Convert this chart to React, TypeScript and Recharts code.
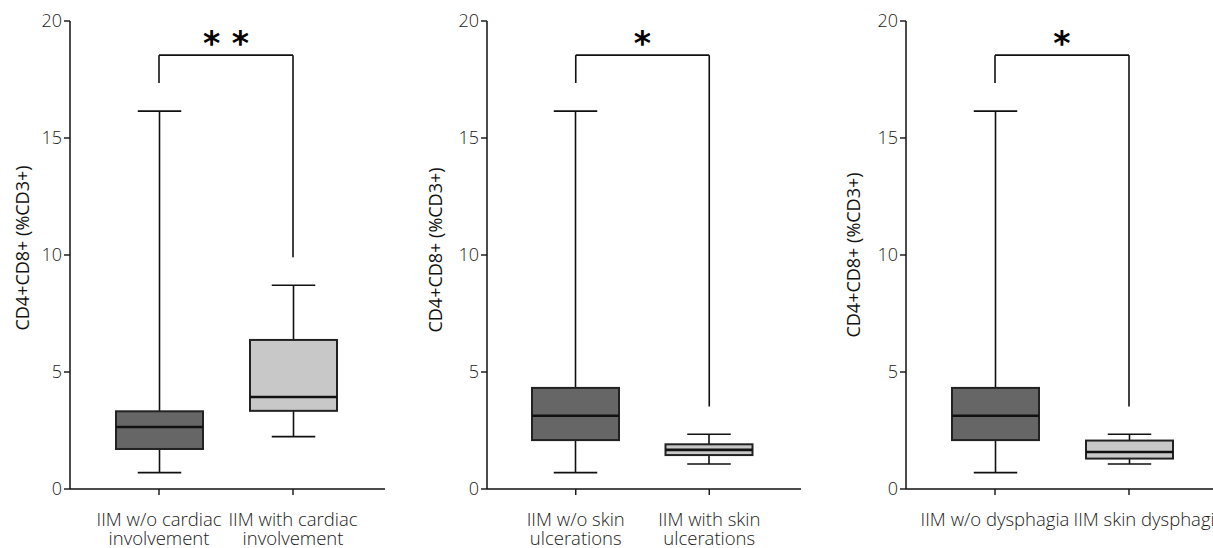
import React from "react";
import { ComposedChart, Bar, XAxis, YAxis, ReferenceLine } from "recharts";

// ---------- data ----------
const yTicks = [0, 5, 10, 15, 20];
const yLabel = "CD4+CD8+ (%CD3+)";

const cardiacCategories = ["IIM w/o cardiac\ninvolvement", "IIM with cardiac\ninvolvement"];
const cardiacMin = [0.7, 2.24];
const cardiacQ1 = [1.71, 3.34];
const cardiacMedian = [2.65, 3.93];
const cardiacQ3 = [3.32, 6.37];
const cardiacMax = [16.15, 8.71];
const cardiacBracket = [17.35, 18.54, 9.9]; // left end, top, right end
const cardiacSignificance = "* *";

const skinCategories = ["IIM w/o skin\nulcerations", "IIM with skin\nulcerations"];
const skinMin = [0.7, 1.07];
const skinQ1 = [2.09, 1.45];
const skinMedian = [3.13, 1.67];
const skinQ3 = [4.32, 1.91];
const skinMax = [16.15, 2.34];
const skinBracket = [17.35, 18.54, 3.53];
const skinSignificance = "*";

const dysphagiaCategories = ["IIM w/o dysphagia", "IIM skin dysphagia"];
const dysphagiaMin = [0.7, 1.07];
const dysphagiaQ1 = [2.09, 1.3];
const dysphagiaMedian = [3.13, 1.58];
const dysphagiaQ3 = [4.32, 2.07];
const dysphagiaMax = [16.15, 2.34];
const dysphagiaBracket = [17.35, 18.54, 3.53];
const dysphagiaSignificance = "*";

// ---------- styles / layout ----------
const BOX_FILLS = ["#666666", "#c8c8c8"];
const INK = "#111";
const TICK_FONT = { fontFamily: "'Open Sans', sans-serif", fontWeight: 300 };
const TICK_COLOR = "#1a1a1a";

const build = (cats: string[], mn: number[], q1: number[], md: number[], q3: number[], mx: number[]) =>
  cats.map((name, i) => ({
    name,
    range: [mn[i], mx[i]],
    min: mn[i],
    q1: q1[i],
    median: md[i],
    q3: q3[i],
    max: mx[i],
  }));

const panels = [
  {
    data: build(cardiacCategories, cardiacMin, cardiacQ1, cardiacMedian, cardiacQ3, cardiacMax),
    cats: cardiacCategories,
    bracket: cardiacBracket,
    sig: cardiacSignificance,
    plotLeft: 70,
    plotWidth: 315,
    labelDist: 48,
    labelY: 248,
    labelDx: [0, 0],
  },
  {
    data: build(skinCategories, skinMin, skinQ1, skinMedian, skinQ3, skinMax),
    cats: skinCategories,
    bracket: skinBracket,
    sig: skinSignificance,
    plotLeft: 487,
    plotWidth: 314,
    labelDist: 52,
    labelY: 250,
    labelDx: [0, 0],
  },
  {
    data: build(dysphagiaCategories, dysphagiaMin, dysphagiaQ1, dysphagiaMedian, dysphagiaQ3, dysphagiaMax),
    cats: dysphagiaCategories,
    bracket: dysphagiaBracket,
    sig: dysphagiaSignificance,
    plotLeft: 906,
    plotWidth: 315,
    labelDist: 53,
    labelY: 255,
    labelDx: [0, 20],
  },
];

const BoxShape = (props: any) => {
  const { x, y, width, height, payload, index } = props;
  if (!payload) return null;
  const lo = payload.min;
  const hi = payload.max;
  const pix = (v: number) => y + (height * (hi - v)) / (hi - lo);
  const cx = x + width / 2;
  const capHalf = width * 0.25;
  const yq1 = pix(payload.q1);
  const yq3 = pix(payload.q3);
  const ymd = pix(payload.median);
  return (
    <g>
      <line x1={cx} x2={cx} y1={pix(hi)} y2={yq3} stroke={INK} strokeWidth={1.6} />
      <line x1={cx} x2={cx} y1={yq1} y2={pix(lo)} stroke={INK} strokeWidth={1.6} />
      <line x1={cx - capHalf} x2={cx + capHalf} y1={pix(hi)} y2={pix(hi)} stroke={INK} strokeWidth={1.6} />
      <line x1={cx - capHalf} x2={cx + capHalf} y1={pix(lo)} y2={pix(lo)} stroke={INK} strokeWidth={1.6} />
      <rect x={x} y={yq3} width={width} height={yq1 - yq3} fill={BOX_FILLS[index % 2]} stroke="#222" strokeWidth={2} />
      <line x1={x} x2={x + width} y1={ymd} y2={ymd} stroke={INK} strokeWidth={2.6} />
    </g>
  );
};

const makeXTick = (labelDx: number[]) => (props: any) => {
  const { x, y, payload, index } = props;
  const lines = String(payload.value).split("\n");
  const px = x + (labelDx[index] || 0);
  return (
    <g>
      {lines.map((ln, i) => (
        <text
          key={i}
          x={px}
          y={y + 29 + i * 19}
          textAnchor="middle"
          fill={TICK_COLOR}
          fontSize={18.5}
          {...TICK_FONT}
        >
          {ln}
        </text>
      ))}
    </g>
  );
};

const makeYLabel = (dist: number, cy: number) => (props: any) => {
  const vb = props.viewBox || {};
  const x = vb.x + vb.width - dist;
  return (
    <text
      x={x}
      y={cy}
      transform={`rotate(-90 ${x} ${cy})`}
      textAnchor="middle"
      dominantBaseline="central"
      fill="#111"
      fontSize={18}
      fontFamily="'Open Sans', sans-serif"
    >
      {yLabel}
    </text>
  );
};

const Panel = ({ p }: { p: (typeof panels)[number] }) => {
  const width = 70 + p.plotWidth + 15;
  const [leftEnd, top, rightEnd] = p.bracket;
  return (
    <div style={{ position: "absolute", left: p.plotLeft - 70, top: 0 }}>
      <ComposedChart width={width} height={548} data={p.data} margin={{ top: 21, right: 15, bottom: 0, left: 10 }}>
        <XAxis
          dataKey="name"
          height={59}
          padding={{ left: 22, right: 25 }}
          tickSize={6}
          tickLine={{ stroke: INK, strokeWidth: 1.4 }}
          axisLine={{ stroke: INK, strokeWidth: 1.5 }}
          tick={makeXTick(p.labelDx)}
          interval={0}
        />
        <XAxis
          xAxisId="top"
          orientation="top"
          dataKey="name"
          height={0}
          tick={false}
          tickLine={false}
          axisLine={{ stroke: INK, strokeWidth: 1.5 }}
        />
        <YAxis
          domain={[0, 20]}
          ticks={yTicks}
          width={60}
          tickSize={6}
          tickLine={{ stroke: INK, strokeWidth: 1.4 }}
          axisLine={{ stroke: INK, strokeWidth: 1.5 }}
          tick={{ fill: TICK_COLOR, fontSize: 18, ...TICK_FONT }}
          label={{ value: yLabel, content: makeYLabel(p.labelDist, p.labelY) }}
        />
        <YAxis
          yAxisId="right"
          orientation="right"
          domain={[0, 20]}
          width={0}
          tick={false}
          tickLine={false}
          axisLine={{ stroke: INK, strokeWidth: 1.5 }}
        />
        <Bar dataKey="range" barSize={87} shape={<BoxShape />} isAnimationActive={false} />
        <ReferenceLine
          segment={[
            { x: p.cats[0], y: leftEnd },
            { x: p.cats[0], y: top },
          ]}
          stroke={INK}
          strokeWidth={1.6}
        />
        <ReferenceLine
          segment={[
            { x: p.cats[0], y: top },
            { x: p.cats[1], y: top },
          ]}
          stroke={INK}
          strokeWidth={1.6}
          label={{
            value: p.sig,
            position: "top",
            offset: 0,
            fill: "#000",
            fontSize: 33,
            fontWeight: 700,
            fontFamily: "'DejaVu Sans', sans-serif",
          }}
        />
        <ReferenceLine
          segment={[
            { x: p.cats[1], y: top },
            { x: p.cats[1], y: rightEnd },
          ]}
          stroke={INK}
          strokeWidth={1.6}
        />
      </ComposedChart>
    </div>
  );
};

export default function App() {
  return (
    <div
      style={{
        position: "absolute",
        left: 0,
        top: 0,
        width: 1213,
        height: 548,
        overflow: "hidden",
        background: "#fff",
      }}
    >
      {panels.map((p, i) => (
        <Panel key={i} p={p} />
      ))}
    </div>
  );
}
